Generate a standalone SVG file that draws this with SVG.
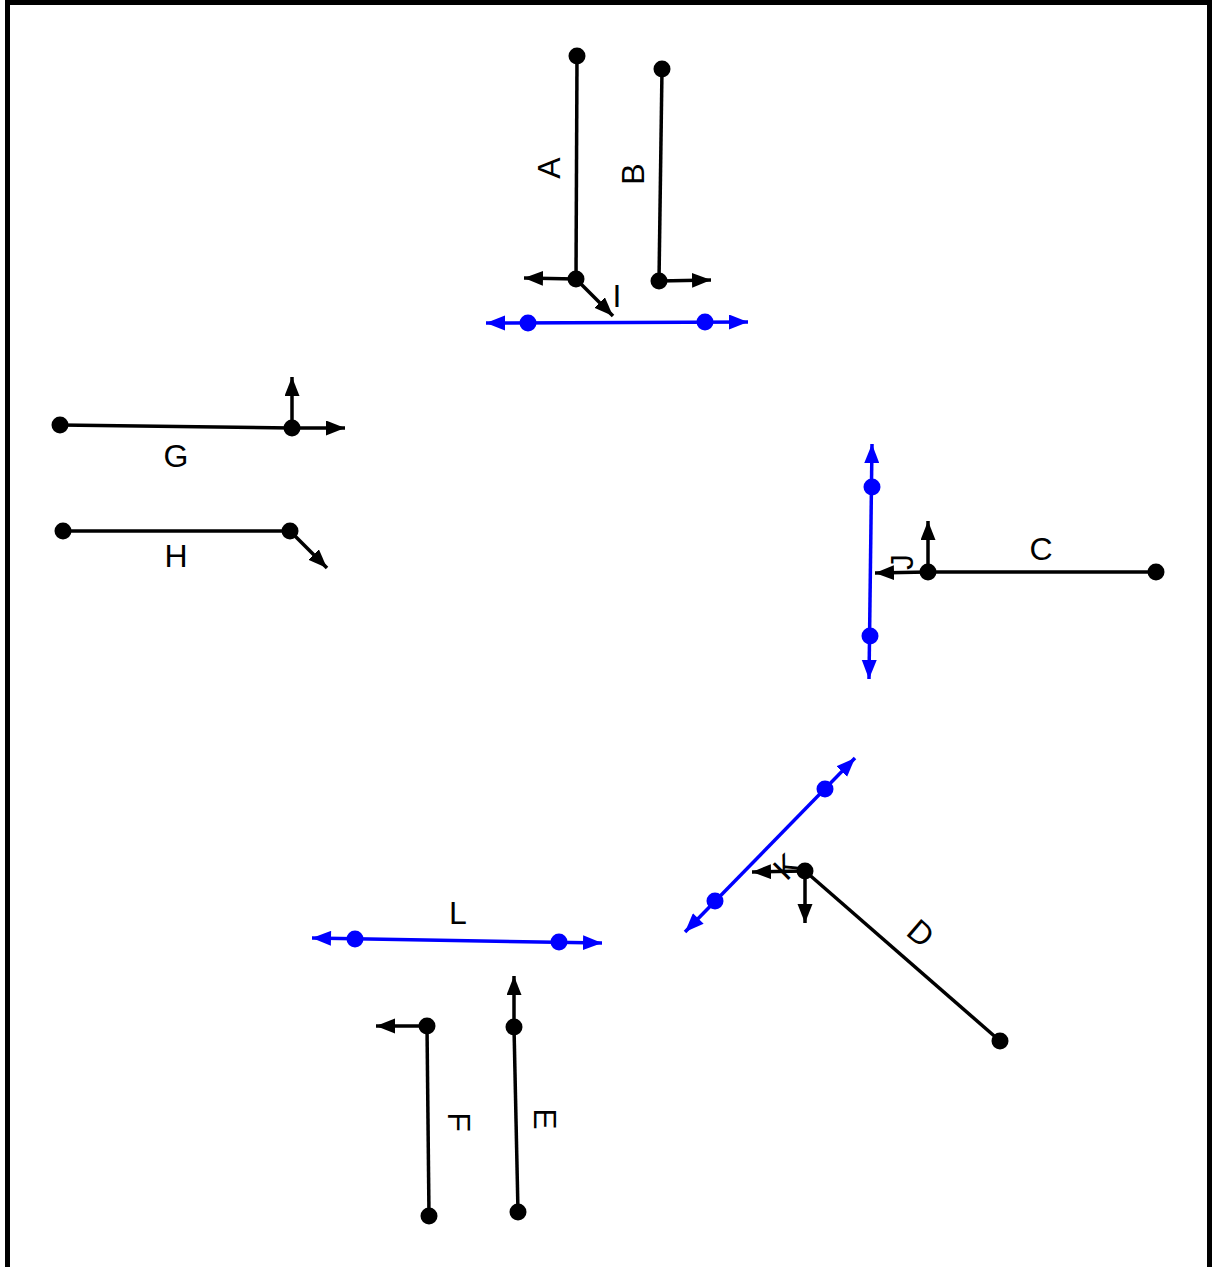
<svg xmlns="http://www.w3.org/2000/svg" width="1212" height="1267" viewBox="0 0 1212 1267">
<style>
.seg{stroke:#000;stroke-width:3.5;fill:none}
.blu{stroke:#0000ff;stroke-width:3.5;fill:none}
.arr{stroke:#000;stroke-width:3.5;fill:none;marker-end:url(#ah)}
.bl2{marker-start:url(#bhs);marker-end:url(#bh)}
.dot{fill:#000}
.bdot{fill:#0000ff}
.lbl{font-family:"Liberation Sans",Arial,sans-serif;font-size:32px;fill:#000;text-anchor:middle}
</style>
<defs>
<marker id="ah" markerUnits="userSpaceOnUse" markerWidth="20" markerHeight="16" refX="19" refY="7.5" orient="auto"><path d="M0,0 L19,7.5 L0,15 Z" fill="#000"/></marker>
<marker id="bh" markerUnits="userSpaceOnUse" markerWidth="20" markerHeight="16" refX="19" refY="7.5" orient="auto"><path d="M0,0 L19,7.5 L0,15 Z" fill="#0000ff"/></marker>
<marker id="bhs" markerUnits="userSpaceOnUse" markerWidth="20" markerHeight="16" refX="0" refY="7.5" orient="auto"><path d="M19,0 L0,7.5 L19,15 Z" fill="#0000ff"/></marker>
</defs>
<rect x="0" y="0" width="1212" height="1267" fill="#fff"/>
<rect x="7.5" y="2.5" width="1202" height="1300" fill="none" stroke="#000" stroke-width="5"/>
<g id="connectors">
<line class="arr" x1="576" y1="279" x2="524" y2="278"/>
<line class="arr" x1="576" y1="279" x2="613" y2="316"/>
<line class="arr" x1="659" y1="281" x2="711" y2="280"/>
<line class="arr" x1="292" y1="428" x2="292" y2="377"/>
<line class="arr" x1="292" y1="428" x2="345" y2="428"/>
<line class="arr" x1="290" y1="531" x2="327" y2="568"/>
<line class="arr" x1="928" y1="572" x2="928" y2="521"/>
<line class="arr" x1="928" y1="572" x2="875" y2="573"/>
<line class="arr" x1="805" y1="871" x2="752" y2="872"/>
<line class="arr" x1="805" y1="871" x2="805" y2="923"/>
<line class="arr" x1="514" y1="1027" x2="514" y2="976"/>
<line class="arr" x1="427" y1="1026" x2="376" y2="1026"/>
</g>
<g id="node-A">
<line class="seg" x1="577" y1="56" x2="576" y2="279"/>
<circle class="dot" cx="577" cy="56" r="8.5"/><circle class="dot" cx="576" cy="279" r="8.5"/>
<text class="lbl" transform="translate(548,168) rotate(-90)" x="0" y="11.5">A</text>
</g>
<g id="node-B">
<line class="seg" x1="662" y1="69" x2="659" y2="281"/>
<circle class="dot" cx="662" cy="69" r="8.5"/><circle class="dot" cx="659" cy="281" r="8.5"/>
<text class="lbl" transform="translate(632,174) rotate(-90)" x="0" y="11.5">B</text>
</g>
<g id="node-I">
<line class="blu bl2" x1="486" y1="323" x2="748" y2="322"/>
<circle class="bdot" cx="528" cy="323" r="8.5"/><circle class="bdot" cx="705" cy="322" r="8.5"/>
<text class="lbl" x="617" y="307">I</text>
</g>
<g id="node-G">
<line class="seg" x1="60" y1="425" x2="292" y2="428"/>
<circle class="dot" cx="60" cy="425" r="8.5"/><circle class="dot" cx="292" cy="428" r="8.5"/>
<text class="lbl" x="176" y="467">G</text>
</g>
<g id="node-H">
<line class="seg" x1="63" y1="531" x2="290" y2="531"/>
<circle class="dot" cx="63" cy="531" r="8.5"/><circle class="dot" cx="290" cy="531" r="8.5"/>
<text class="lbl" x="176" y="567">H</text>
</g>
<g id="node-C">
<line class="seg" x1="928" y1="572" x2="1156" y2="572"/>
<circle class="dot" cx="928" cy="572" r="8.5"/><circle class="dot" cx="1156" cy="572" r="8.5"/>
<text class="lbl" x="1041" y="560">C</text>
</g>
<g id="node-J">
<line class="blu bl2" x1="872" y1="444" x2="869" y2="679"/>
<circle class="bdot" cx="872" cy="487" r="8.5"/><circle class="bdot" cx="870" cy="636" r="8.5"/>
<text class="lbl" transform="translate(901,562) rotate(-90)" x="0" y="11.5">J</text>
</g>
<g id="node-D">
<line class="seg" x1="805" y1="871" x2="1000" y2="1041"/>
<circle class="dot" cx="805" cy="871" r="8.5"/><circle class="dot" cx="1000" cy="1041" r="8.5"/>
<text class="lbl" transform="translate(921,933) rotate(41)" x="0" y="11.5">D</text>
</g>
<g id="node-K">
<line class="blu bl2" x1="685" y1="932" x2="855" y2="758"/>
<circle class="bdot" cx="715" cy="901" r="8.5"/><circle class="bdot" cx="825" cy="789" r="8.5"/>
<text class="lbl" transform="translate(786,866) rotate(-45)" x="0" y="11.5">K</text>
</g>
<g id="node-L">
<line class="blu bl2" x1="312" y1="938" x2="602" y2="943"/>
<circle class="bdot" cx="355" cy="939" r="8.5"/><circle class="bdot" cx="559" cy="942" r="8.5"/>
<text class="lbl" x="458" y="924">L</text>
</g>
<g id="node-E">
<line class="seg" x1="514" y1="1027" x2="518" y2="1212"/>
<circle class="dot" cx="514" cy="1027" r="8.5"/><circle class="dot" cx="518" cy="1212" r="8.5"/>
<text class="lbl" transform="translate(545,1119) rotate(90)" x="0" y="11.5">E</text>
</g>
<g id="node-F">
<line class="seg" x1="427" y1="1026" x2="429" y2="1216"/>
<circle class="dot" cx="427" cy="1026" r="8.5"/><circle class="dot" cx="429" cy="1216" r="8.5"/>
<text class="lbl" transform="translate(459,1122) rotate(90)" x="0" y="11.5">F</text>
</g>
</svg>
